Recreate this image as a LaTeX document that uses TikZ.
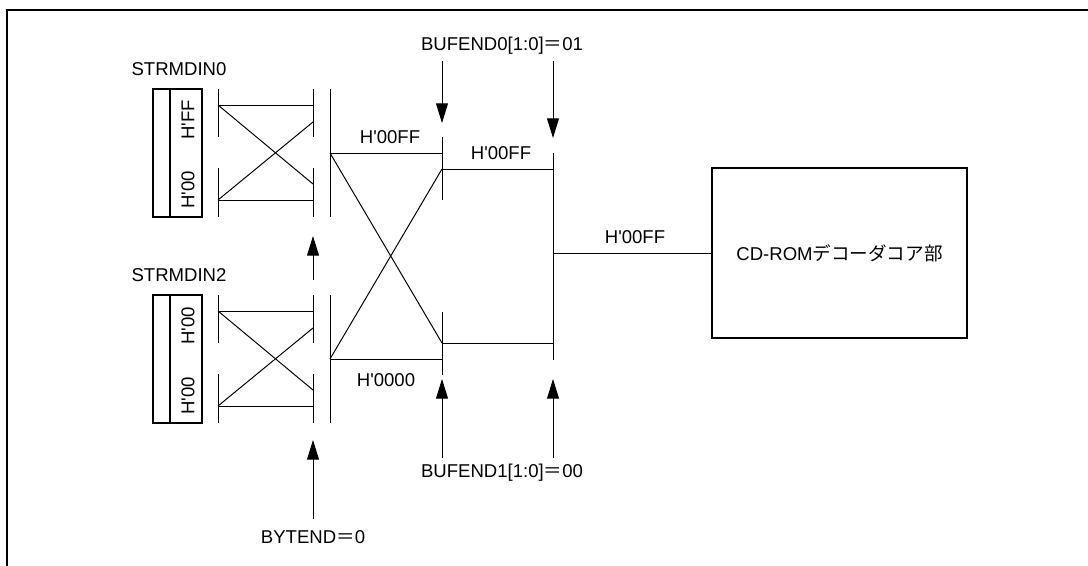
\documentclass[tikz,border=0pt]{standalone}
\usepackage{fontspec}
\setmainfont{Liberation Sans}
\newfontfamily\jpfont{Noto Sans CJK JP}
\usetikzlibrary{arrows.meta}
\newcommand\ap{\textquotesingle}

\begin{document}
\begin{tikzpicture}[
    x=0.025cm,y=-0.025cm,
    sig/.style={line width=0.7pt},
    arr/.style={-{Triangle[length=14pt,width=8.5pt]},line width=0.7pt},
    reg/.style={draw,line width=1.4pt,minimum width=1.225cm,minimum height=3.2cm,inner sep=0pt},
    core/.style={draw,line width=1.4pt,minimum width=6.375cm,minimum height=4.25cm,
      font=\fontsize{13.2}{15}\selectfont},
    lbl/.style={font=\fontsize{13.2}{15}\selectfont,inner sep=1pt}
  ]
    \useasboundingbox (0,0) rectangle (1088,566);
    \draw[line width=1.2pt] (7,566) -- (7,10) -- (1088,10);

    % the two input registers and their byte swap
    \foreach \n/\yo/\hi in {0/0/FF,2/206/00}{
      \node[lbl] (name\n) at (179,69+\yo) {STRMDIN\n};
      \node[reg] (reg\n) at (177.5,153+\yo) {};
      \draw[line width=1.4pt] (170,89+\yo) -- (170,217+\yo);
      \node[lbl,rotate=90] (hi\n) at (188,120+\yo) {H\ap\hi};
      \node[lbl,rotate=90] (lo\n) at (188,190+\yo) {H\ap 00};
      \draw[sig] (218,89+\yo) -- (218,137+\yo) (218,168+\yo) -- (218,217+\yo);
      \draw[sig] (313,89+\yo) -- (313,137+\yo) (313,168+\yo) -- (313,217+\yo);
      \draw[sig] (218,105+\yo) -- (313,105+\yo);
      \draw[sig] (218,105+\yo) -- (313,184+\yo);
      \draw[sig] (218,200+\yo) -- (313,200+\yo);
      \draw[sig] (218,200+\yo) -- (313,122+\yo);
      \draw[sig] (330,89+\yo) -- (330,217+\yo);
      \coordinate (out\n) at (330,153+\yo);
    }

    % buffer select
    \coordinate (sA) at (442,153);
    \coordinate (sB) at (442,169);
    \coordinate (sC) at (442,343);
    \coordinate (sD) at (442,359);
    \draw[sig] (442,137) -- (442,200);
    \draw[sig] (442,312) -- (442,375);
    \draw[sig] (out0) -- (sA);
    \draw[sig] (out0) -- (sC);
    \draw[sig] (out2) -- (sD);
    \draw[sig] (out2) -- (sB);
    \node[lbl] (dA) at (390,137) {H\ap 00FF};
    \node[lbl] (dD) at (386,380) {H\ap 0000};

    \coordinate (mB) at (553,169);
    \coordinate (mC) at (553,343);
    \draw[sig] (553,153) -- (553,360);
    \draw[sig] (sB) -- (mB);
    \draw[sig] (sC) -- (mC);
    \node[lbl] (dB) at (501,153) {H\ap 00FF};

    % decoder core
    \node[core] (dec) at (839.5,253) {CD-ROM{\jpfont デコーダコア部}};
    \coordinate (merge) at (553,253);
    \draw[sig] (merge) -- (dec.west);
    \node[lbl] (dOut) at (635,237) {H\ap 00FF};

    % control inputs
    \node[lbl] (buf0) at (502,46) {BUFEND0[1:0]{\jpfont ＝}01};
    \node[lbl] (buf1) at (502,473) {BUFEND1[1:0]{\jpfont ＝}00};
    \node[lbl] (byte) at (313,537) {BYTEND{\jpfont ＝}0};
    \coordinate (b0a) at (442,61);
    \coordinate (b0b) at (553,61);
    \coordinate (b1a) at (442,458);
    \coordinate (b1b) at (553,458);
    \coordinate (bt) at (313,519);
    \coordinate (bm) at (313,280);
    \draw[arr] (b0a) -- (442,123);
    \draw[arr] (b0b) -- (553,138);
    \draw[arr] (b1a) -- (442,379);
    \draw[arr] (b1b) -- (553,379);
    \draw[arr] (bt) -- (313,440);
    \draw[arr] (bm) -- (313,236);
\end{tikzpicture}
\end{document}
